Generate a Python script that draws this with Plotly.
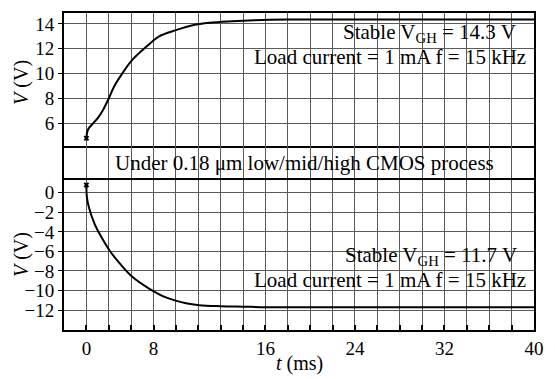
import plotly.graph_objects as go

# ---- data ----
t_top = [0, 0.15, 0.6, 1.0, 1.5, 2.0, 2.5, 3.2, 4.1, 5.4, 6.5, 8.0, 9.5, 11, 13, 15, 18, 24, 32, 40]
v_top = [4.8, 5.5, 6.0, 6.4, 7.1, 8.0, 9.0, 10.0, 11.1, 12.2, 13.0, 13.5, 13.9, 14.1, 14.22, 14.3, 14.35, 14.35, 14.35, 14.35]

t_bot = [0, 0.05, 0.23, 0.74, 1.33, 2.07, 2.96, 4.1, 5.6, 7.1, 8.9, 10.1, 12, 14, 16, 20, 24, 32, 40]
v_bot = [0.8, -0.5, -1.5, -3.2, -4.5, -5.9, -7.2, -8.6, -9.8, -10.7, -11.3, -11.5, -11.6, -11.65, -11.7, -11.7, -11.7, -11.7, -11.7]

x_tick_labels = ["0", "8", "16", "24", "32", "40"]
x_tick_pos = [0, 6, 16, 24, 32, 40]   # where the reference prints its labels
y_top_ticks = [6, 8, 10, 12, 14]
y_bot_ticks = [0, -2, -4, -6, -8, -10, -12]

FONT = "Liberation Serif"
GRID = "#5a5a5a"

fig = go.Figure()
fig.add_trace(go.Scatter(x=t_top, y=v_top, mode="lines", line=dict(color="black", width=2, shape="spline"),
                         xaxis="x", yaxis="y", showlegend=False))
fig.add_trace(go.Scatter(x=t_top[:1], y=v_top[:1], mode="markers", marker=dict(symbol="x", size=5, color="black"),
                         xaxis="x", yaxis="y", showlegend=False))
# invisible trace so the middle band subplot (frame + vertical grid) is drawn
fig.add_trace(go.Scatter(x=[0], y=[-1], mode="markers", marker=dict(opacity=0), xaxis="x2", yaxis="y2",
                         showlegend=False, hoverinfo="skip"))
fig.add_trace(go.Scatter(x=t_bot, y=v_bot, mode="lines", line=dict(color="black", width=2, shape="spline"),
                         xaxis="x3", yaxis="y3", showlegend=False))
fig.add_trace(go.Scatter(x=t_bot[:1], y=v_bot[:1], mode="markers", marker=dict(symbol="x", size=5, color="black"),
                         xaxis="x3", yaxis="y3", showlegend=False))

xcommon = dict(type="linear", range=[-2, 40], zeroline=False, fixedrange=True)
grid_minor = dict(dtick=2, tick0=0, showgrid=True, gridcolor=GRID, gridwidth=1)

fig.update_layout(
    width=555, height=379,
    margin=dict(l=64, r=19, t=11, b=49),
    paper_bgcolor="white", plot_bgcolor="white",
    font=dict(family=FONT, size=17, color="black"),
    xaxis=dict(**xcommon, domain=[0, 1], anchor="y", dtick=2, tick0=0, showgrid=True,
               gridcolor=GRID, gridwidth=1, showticklabels=False, ticks="",
               showline=True, mirror=True, linecolor="black", linewidth=2),
    xaxis2=dict(**xcommon, domain=[0, 1], anchor="y2", tickmode="linear", dtick=2, tick0=0, showgrid=True,
                gridcolor=GRID, gridwidth=1, showticklabels=False, ticks="", showline=False),
    xaxis3=dict(**xcommon, domain=[0, 1], anchor="y3", tickmode="array", tickvals=x_tick_pos,
                ticktext=x_tick_labels, showgrid=True, gridcolor=GRID, gridwidth=1,
                showline=True, mirror=True, linecolor="black", linewidth=2,
                ticks="inside", ticklen=5, tickcolor="black", tickwidth=1.5,
                minor=dict(**grid_minor, ticks="inside", ticklen=5, tickcolor="black", tickwidth=1.5),
                tickfont=dict(size=19)),
    yaxis=dict(type="linear", domain=[0.5799, 1], range=[4.16, 14.88], tickmode="array", tickvals=y_top_ticks,
               showgrid=True, gridcolor=GRID, gridwidth=1, showline=True, mirror=True,
               linecolor="black", linewidth=2, zeroline=False, ticks="outside", ticklen=4,
               tickcolor="black", tickfont=dict(size=19), fixedrange=True),
    yaxis2=dict(type="linear", domain=[0.4734, 0.5799], range=[0, 1], showgrid=False, showticklabels=False,
                showline=True, mirror=True, linecolor="black", linewidth=2, zeroline=False,
                ticks="", fixedrange=True),
    yaxis3=dict(type="linear", domain=[0, 0.4734], range=[-14.04, 1.32], tickmode="array", tickvals=y_bot_ticks,
                showgrid=True, gridcolor=GRID, gridwidth=1, showline=True, mirror=True,
                linecolor="black", linewidth=2, zeroline=False, ticks="outside", ticklen=4,
                tickcolor="black", tickfont=dict(size=19), fixedrange=True),
)

ann = dict(xref="paper", yref="paper", showarrow=False, font=dict(family=FONT, size=21, color="black"))
fig.add_annotation(text="Stable V<sub>GH</sub> = 14.3 V", x=0.966, y=0.937, xanchor="right", yanchor="middle", **ann)
fig.add_annotation(text="Load current = 1 mA f = 15 kHz", x=0.987, y=0.862, xanchor="right", yanchor="middle", **ann)
fig.add_annotation(text="Under 0.18 μm low/mid/high CMOS process", x=0.5127, y=0.5266,
                   xanchor="center", yanchor="middle", **ann)
fig.add_annotation(text="Stable V<sub>GH</sub> = 11.7 V", x=0.968, y=0.235, xanchor="right", yanchor="middle", **ann)
fig.add_annotation(text="Load current = 1 mA f = 15 kHz", x=0.987, y=0.157, xanchor="right", yanchor="middle", **ann)

axt = dict(xref="paper", yref="paper", showarrow=False, font=dict(family=FONT, size=20, color="black"))
fig.add_annotation(text="<i>V</i> (V)", textangle=-90, x=-0.089, y=0.78, xanchor="center", yanchor="middle", **axt)
fig.add_annotation(text="<i>V</i> (V)", textangle=-90, x=-0.089, y=0.237, xanchor="center", yanchor="middle", **axt)
fig.add_annotation(text="<i>t</i> (ms)", x=0.5, y=-0.107, xanchor="center", yanchor="middle", **axt)

fig.write_html("out.html", config={"displayModeBar": False},
               post_script="document.body.style.margin='0';document.body.style.overflow='hidden';")
